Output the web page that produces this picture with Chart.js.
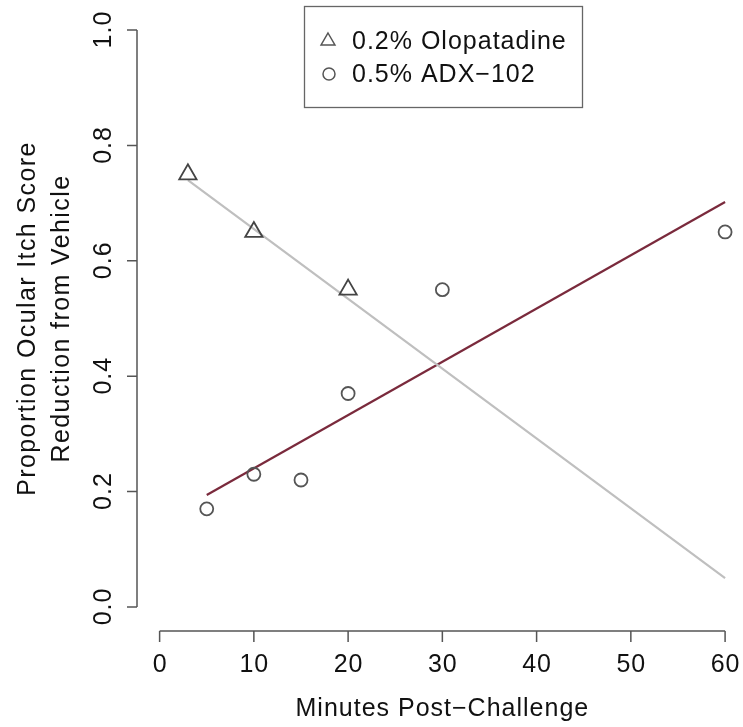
<!DOCTYPE html>
<html>
<head>
<meta charset="utf-8">
<script src="https://cdn.jsdelivr.net/npm/chart.js@4"></script>
<style>
  html, body { margin: 0; padding: 0; background: #fff; overflow: hidden; }
  #wrap { width: 743px; height: 727px; position: relative; }
</style>
</head>
<body>
<div id="wrap"><canvas id="c" width="743" height="727"></canvas></div>
<script>
// ---- data ----
const olopatadineX = [3, 10, 20];
const olopatadineY = [0.75, 0.65, 0.55];
const adxX = [5, 10, 15, 20, 30, 60];
const adxY = [0.17, 0.23, 0.22, 0.37, 0.55, 0.65];
const olopatadineFitX = [3, 60];
const olopatadineFitY = [0.74, 0.05];
const adxFitX = [5, 60];
const adxFitY = [0.194, 0.702];
const xTicks = [0, 10, 20, 30, 40, 50, 60];
const yTicks = [0.0, 0.2, 0.4, 0.6, 0.8, 1.0];
const yTickLabels = ["0.0", "0.2", "0.4", "0.6", "0.8", "1.0"];
const seriesNames = ["0.2% Olopatadine", "0.5% ADX\u2212102"];
const xTitle = "Minutes Post\u2212Challenge";
const yTitleLines = ["Proportion Ocular Itch Score", "Reduction from Vehicle"];

const FONT = '"Liberation Sans", Arial, Helvetica, sans-serif';
const toPts = (xs, ys) => xs.map((x, i) => ({ x: x, y: ys[i] }));

const axesPlugin = {
  id: 'rAxes',
  afterDraw(chart) {
    const ctx = chart.ctx;
    const xs = chart.scales.x, ys = chart.scales.y;
    const ca = chart.chartArea;
    ctx.save();
    ctx.strokeStyle = '#555';
    ctx.lineWidth = 1.5;
    ctx.fillStyle = '#111';
    ctx.letterSpacing = '1px';
    // x axis
    const xAxisY = ca.bottom + 1;
    const x0 = xs.getPixelForValue(xTicks[0]);
    const x1 = xs.getPixelForValue(xTicks[xTicks.length - 1]);
    ctx.beginPath();
    ctx.moveTo(x0, xAxisY); ctx.lineTo(x1, xAxisY);
    xTicks.forEach(t => {
      const px = xs.getPixelForValue(t);
      ctx.moveTo(px, xAxisY); ctx.lineTo(px, xAxisY + 11);
    });
    ctx.stroke();
    ctx.font = '25px ' + FONT;
    ctx.textAlign = 'center';
    ctx.textBaseline = 'middle';
    xTicks.forEach(t => {
      ctx.fillText(String(t), xs.getPixelForValue(t) + 0.5, 665);
    });
    ctx.fillText(xTitle, (x0 + x1) / 2, 709);
    // y axis
    const yAxisX = ca.left;
    const y0 = ys.getPixelForValue(yTicks[0]);
    const y1 = ys.getPixelForValue(yTicks[yTicks.length - 1]);
    ctx.beginPath();
    ctx.moveTo(yAxisX, y0); ctx.lineTo(yAxisX, y1);
    yTicks.forEach(t => {
      const py = ys.getPixelForValue(t);
      ctx.moveTo(yAxisX, py); ctx.lineTo(yAxisX - 10, py);
    });
    ctx.stroke();
    yTicks.forEach((t, i) => {
      const py = ys.getPixelForValue(t);
      ctx.save();
      ctx.translate(104, py);
      ctx.rotate(-Math.PI / 2);
      ctx.fillText(yTickLabels[i], 0.5, 0);
      ctx.restore();
    });
    const yc = (y0 + y1) / 2;
    ctx.letterSpacing = '1.4px';
    [28, 62].forEach((cx, i) => {
      ctx.save();
      ctx.translate(cx, yc);
      ctx.rotate(-Math.PI / 2);
      ctx.fillText(yTitleLines[i], 0, 0);
      ctx.restore();
    });
    ctx.letterSpacing = '1px';
    // legend
    ctx.strokeStyle = '#666';
    ctx.lineWidth = 1.3;
    ctx.strokeRect(304.5, 6.5, 278, 101);
    ctx.textAlign = 'left';
    ctx.fillStyle = '#111';
    ctx.fillText(seriesNames[0], 352, 42);
    ctx.fillText(seriesNames[1], 352, 75);
    ctx.strokeStyle = '#555';
    ctx.lineWidth = 1.5;
    // triangle symbol
    const tx = 328, ty = 41, r = 8;
    ctx.beginPath();
    ctx.moveTo(tx, ty - r);
    ctx.lineTo(tx + r * 0.866, ty + r * 0.5);
    ctx.lineTo(tx - r * 0.866, ty + r * 0.5);
    ctx.closePath();
    ctx.stroke();
    ctx.beginPath();
    ctx.arc(329, 74, 6, 0, Math.PI * 2);
    ctx.stroke();
    ctx.restore();
  }
};

new Chart(document.getElementById('c'), {
  type: 'scatter',
  data: {
    datasets: [
      {
        type: 'line',
        label: 'fit1',
        data: toPts(olopatadineFitX, olopatadineFitY),
        borderColor: '#bfbfbf',
        borderWidth: 2.2,
        pointRadius: 0,
        fill: false,
        order: 3
      },
      {
        type: 'line',
        label: 'fit2',
        data: toPts(adxFitX, adxFitY),
        borderColor: '#7a2a3c',
        borderWidth: 2.2,
        pointRadius: 0,
        fill: false,
        order: 3
      },
      {
        label: seriesNames[0],
        data: toPts(olopatadineX, olopatadineY),
        pointStyle: 'triangle',
        pointRadius: 10,
        pointBorderColor: '#444',
        pointBackgroundColor: 'rgba(255,255,255,0)',
        pointBorderWidth: 1.8,
        order: 1
      },
      {
        label: seriesNames[1],
        data: toPts(adxX, adxY),
        pointStyle: 'circle',
        pointRadius: 6.5,
        pointBorderColor: '#555',
        pointBackgroundColor: 'rgba(255,255,255,0)',
        pointBorderWidth: 1.8,
        order: 1
      }
    ]
  },
  options: {
    responsive: false,
    animation: false,
    layout: { autoPadding: false, padding: { left: 137, right: 0, top: 7, bottom: 97 } },
    plugins: { legend: { display: false }, tooltip: { enabled: false } },
    scales: {
      x: { type: 'linear', min: -2.4, max: 61.9, display: false },
      y: { type: 'linear', min: -0.04, max: 1.04, display: false }
    }
  },
  plugins: [axesPlugin]
});
</script>
</body>
</html>
